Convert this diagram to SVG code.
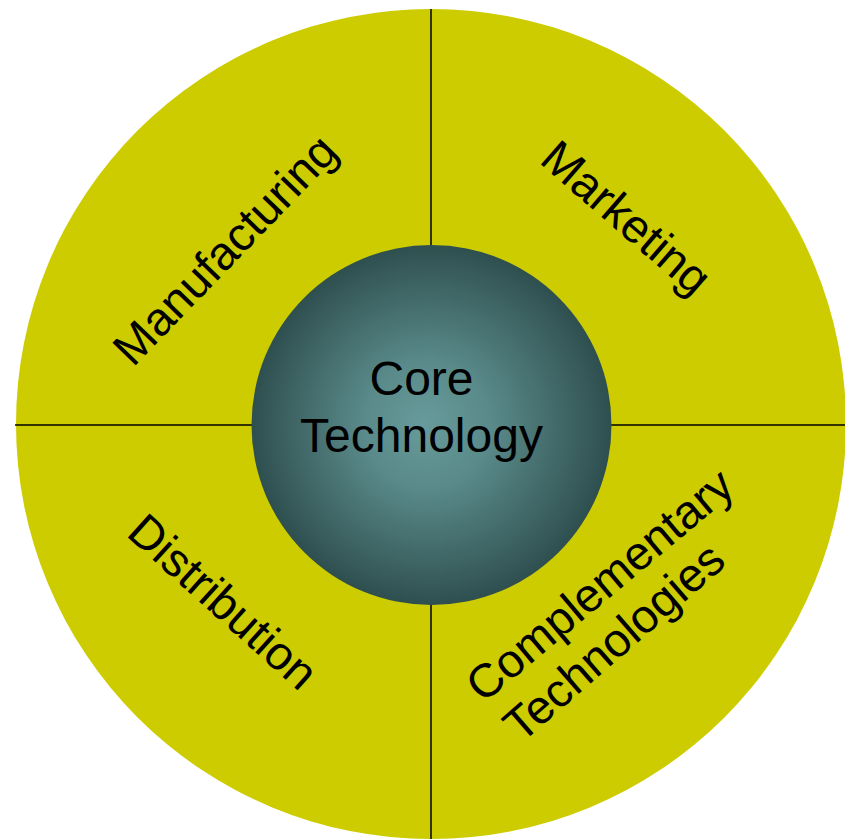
<svg xmlns="http://www.w3.org/2000/svg" width="845" height="839" viewBox="0 0 845 839">
  <defs>
    <radialGradient id="coreGrad" cx="50%" cy="50%" r="50%" fx="48%" fy="50%">
      <stop offset="0" stop-color="#679B9B"/>
      <stop offset="0.35" stop-color="#5A8A8A"/>
      <stop offset="1" stop-color="#2F4F4F"/>
    </radialGradient>
  </defs>
  <style>
    .ring { fill: #CCCC00; }
    .div { stroke: #000000; stroke-width: 1.5; fill: none; }
    .lbl { font-family: "Liberation Sans", Arial, sans-serif; font-size: 47px; fill: #000000; }
    .core { font-family: "Liberation Sans", Arial, sans-serif; font-size: 48px; fill: #000000; }
  </style>
  <rect width="845" height="839" fill="#FFFFFF"/>
  <g id="ring">
    <circle class="ring" cx="431" cy="424" r="415"/>
  </g>
  <g id="connectors">
    <line class="div" x1="431" y1="9" x2="431" y2="839"/>
    <line class="div" x1="15" y1="425" x2="845" y2="425"/>
  </g>
  <g id="manufacturing">
    <text class="lbl" transform="translate(133,368) rotate(-46)">Manufacturing</text>
  </g>
  <g id="marketing">
    <text class="lbl" transform="translate(538,162) rotate(41)">Marketing</text>
  </g>
  <g id="distribution">
    <text class="lbl" transform="translate(125,535) rotate(42)">Distribution</text>
  </g>
  <g id="complementary">
    <text class="lbl" transform="translate(483,704) rotate(-40)">Complementary</text>
    <text class="lbl" transform="translate(521,744) rotate(-41)">Technologies</text>
  </g>
  <g id="core">
    <circle cx="431.5" cy="425" r="180" fill="url(#coreGrad)"/>
    <text class="core" x="421.5" y="395" text-anchor="middle">Core</text>
    <text class="core" x="421.5" y="452" text-anchor="middle">Technology</text>
  </g>
</svg>
